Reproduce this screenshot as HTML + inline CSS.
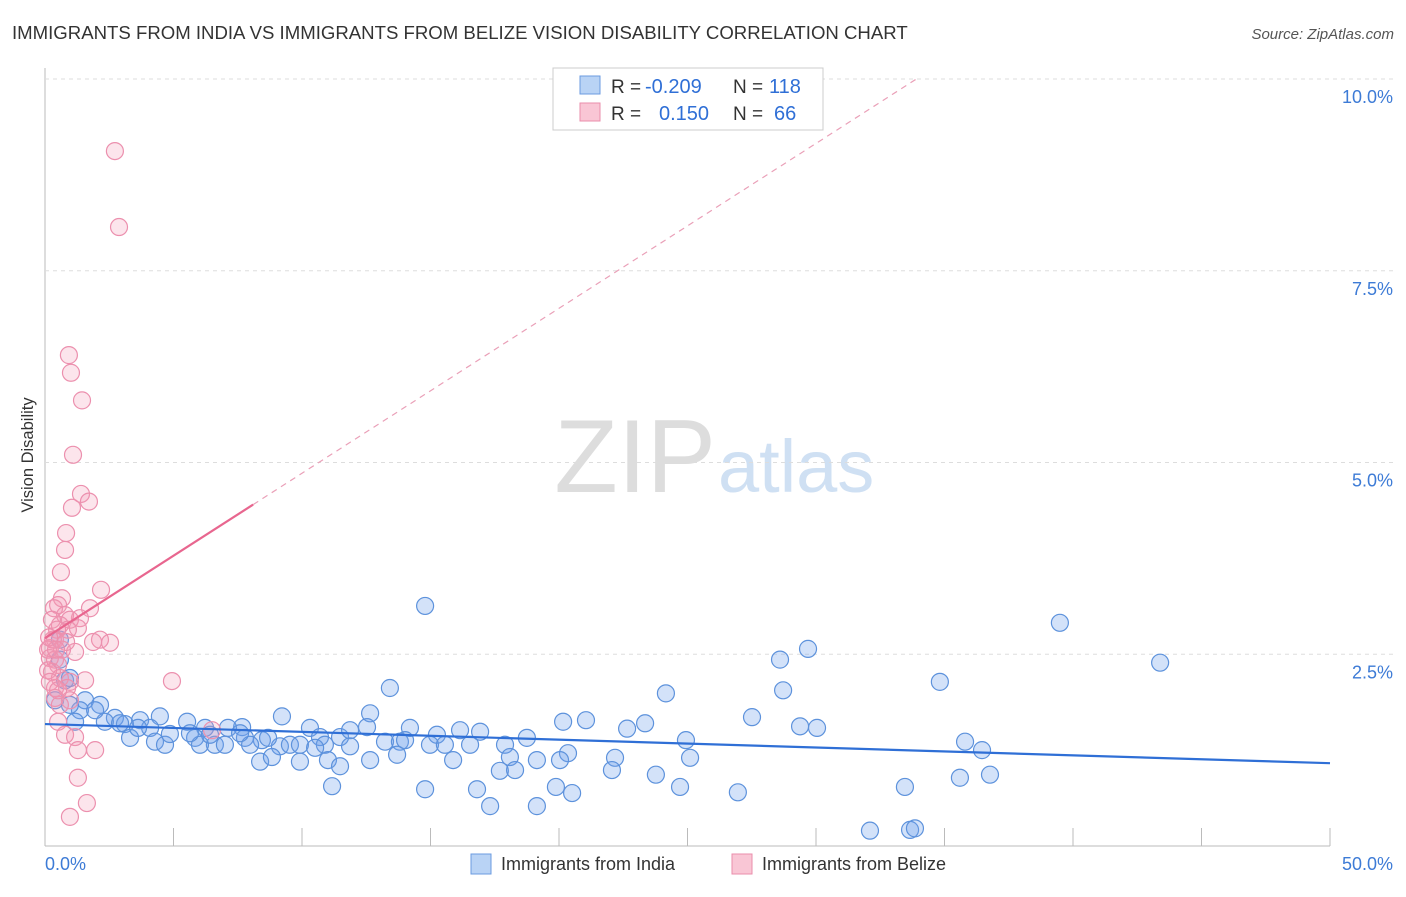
<!DOCTYPE html>
<html><head><meta charset="utf-8"><style>
body{margin:0;background:#fff;font-family:"Liberation Sans",sans-serif;}
svg text{font-family:"Liberation Sans",sans-serif;}
</style></head><body>
<svg id="chart" width="1406" height="892" xmlns="http://www.w3.org/2000/svg">
<text x="12" y="39" font-size="18.6" fill="#333">IMMIGRANTS FROM INDIA VS IMMIGRANTS FROM BELIZE VISION DISABILITY CORRELATION CHART</text>
<text x="1394" y="39" font-size="15" fill="#555" font-style="italic" text-anchor="end">Source: ZipAtlas.com</text>
<text x="716" y="492" font-size="104" fill="#ddd" text-anchor="end" font-family="Liberation Serif">ZIP</text>
<text x="718" y="492" font-size="74" fill="#cfe0f3">atlas</text>
<text transform="translate(33,455) rotate(-90)" font-size="16.5" fill="#333" text-anchor="middle">Vision Disability</text>
<g id="grid"></g><g id="marks"></g>
<g>
<rect x="553" y="68" width="270" height="62" fill="#fff" stroke="#ccc"/>
<rect x="580" y="76" width="20" height="18" fill="#b9d3f5" stroke="#6b9be0"/>
<rect x="580" y="103" width="20" height="18" fill="#f9c6d5" stroke="#ea8dab"/>
<text x="611" y="93" font-size="19" fill="#333">R =</text>
<text x="645" y="93" font-size="20" fill="#2f6fd6">-0.209</text>
<text x="733" y="93" font-size="19" fill="#333">N =</text>
<text x="769" y="93" font-size="20" fill="#2f6fd6">118</text>
<text x="611" y="120" font-size="19" fill="#333">R =</text>
<text x="659" y="120" font-size="20" fill="#2f6fd6">0.150</text>
<text x="733" y="120" font-size="19" fill="#333">N =</text>
<text x="774" y="120" font-size="20" fill="#2f6fd6">66</text>
</g>
<g>
<rect x="471" y="854" width="20" height="20" fill="#b9d3f5" stroke="#6b9be0"/>
<text x="501" y="870" font-size="18" fill="#333">Immigrants from India</text>
<rect x="732" y="854" width="20" height="20" fill="#f9c6d5" stroke="#ea8dab"/>
<text x="762" y="870" font-size="18" fill="#333">Immigrants from Belize</text>
</g>
<text x="45" y="870" font-size="18" fill="#3d7bd6">0.0%</text>
<text x="1393" y="870" font-size="18" fill="#3d7bd6" text-anchor="end">50.0%</text>
</svg>
<script>
const yTicks=[10,7.5,5,2.5];
const yTickLabels=["10.0%","7.5%","5.0%","2.5%"];
const indiaX=[14.79,39.49,43.39,29.69,28.6,34.82,13.42,24.16,28.72,27.51,29.38,30.04,21.05,20.16,23.35,22.65,16.15,16.93,15.25,14.2,12.65,12.53,11.48,10.31,10.7,9.22,7.67,7.12,6.23,5.53,4.47,3.7,2.72,2.14,1.56,1.36,0.97,0.58,0.58,0.78,0.97,0.39,1.17,2.33,3.11,4.09,3.31,4.28,4.67,5.84,6.61,7.0,7.78,8.44,9.14,9.53,9.92,10.89,11.87,13.23,13.81,14.01,14.98,15.56,16.54,17.9,18.75,20.35,22.18,24.94,25.1,35.8,36.46,8.37,8.83,9.92,11.01,11.48,12.65,13.7,15.88,18.09,19.14,22.06,23.77,17.7,18.29,11.17,14.79,16.81,19.88,20.51,24.71,26.96,33.46,35.6,36.77,17.32,19.14,32.1,33.66,33.85,7.98,6.03,7.59,11.87,10.51,3.62,4.86,1.95,2.92,6.42,20.04,5.64,8.68];
const indiaY=[3.13,2.91,2.39,2.57,2.43,2.14,2.06,1.99,2.03,1.68,1.56,1.54,1.64,1.62,1.6,1.53,1.51,1.49,1.45,1.54,1.73,1.55,1.42,1.54,1.42,1.69,1.55,1.54,1.54,1.62,1.69,1.64,1.67,1.84,1.9,1.77,1.84,2.69,2.43,2.16,2.19,1.9,1.62,1.62,1.59,1.54,1.41,1.36,1.32,1.41,1.32,1.32,1.41,1.38,1.3,1.32,1.32,1.32,1.3,1.36,1.36,1.38,1.32,1.32,1.32,1.32,1.41,1.21,1.15,1.38,1.15,1.36,1.25,1.1,1.16,1.1,1.12,1.04,1.12,1.19,1.12,1.16,1.12,0.99,0.93,0.98,0.99,0.78,0.74,0.74,0.77,0.69,0.77,0.7,0.77,0.89,0.93,0.52,0.52,0.2,0.21,0.23,1.32,1.32,1.47,1.51,1.28,1.54,1.46,1.77,1.6,1.45,1.12,1.47,1.41];
const belizeX=[2.72,2.88,0.93,1.01,1.44,1.09,1.4,1.71,1.05,0.82,0.78,0.62,2.18,0.66,0.51,0.35,1.75,1.36,0.78,0.97,0.58,1.28,0.89,0.27,0.47,2.14,2.53,1.87,0.39,1.17,0.66,0.19,0.19,0.39,0.51,0.27,0.12,0.58,0.97,1.56,4.94,0.39,0.86,0.19,0.39,0.97,0.58,0.51,0.78,1.17,1.28,1.95,1.28,1.63,0.97,6.5,0.12,0.31,0.51,0.82,0.16,0.43];
const belizeY=[9.06,8.07,6.4,6.17,5.81,5.1,4.59,4.49,4.41,4.08,3.86,3.57,3.34,3.23,3.14,3.1,3.1,2.97,3.01,2.95,2.88,2.84,2.82,2.95,2.82,2.69,2.65,2.66,2.69,2.53,2.56,2.58,2.45,2.43,2.36,2.27,2.29,2.19,2.14,2.16,2.15,2.06,2.06,2.14,1.93,1.9,1.84,1.62,1.45,1.42,1.25,1.25,0.89,0.56,0.38,1.51,2.56,2.69,2.03,2.66,2.72,2.56];
const indiaTrend=[1.59,1.08];
const belizeTrend=[2.71,0.215];
const NS="http://www.w3.org/2000/svg";
const X0=45,X1=1330,Y0=846,PPU=76.7;
const xs=v=>X0+(v/50)*(X1-X0), ys=v=>Y0-v*PPU;
function mk(tag,attrs,parent){const e=document.createElementNS(NS,tag);for(const k in attrs)e.setAttribute(k,attrs[k]);parent.appendChild(e);return e;}
const grid=document.getElementById('grid'),marks=document.getElementById('marks');
let ax=mk('line',{x1:X0,x2:X0,y1:68,y2:Y0,stroke:'#bbb'},grid);


let bx=mk('line',{x1:X0,x2:X1,y1:Y0,y2:Y0,stroke:'#bbb'},grid);


yTicks.forEach((t,i)=>{
 const g=mk('line',{x1:X0,x2:1395,y1:ys(t),y2:ys(t),stroke:'#ddd','stroke-dasharray':'4,4'},grid);
 
 
 const l=mk('text',{x:1393,y:ys(t)+24,'font-size':18,fill:'#3d7bd6','text-anchor':'end'},grid);
 l.textContent=yTickLabels[i];
 
 
});
for(let v=0;v<=50;v+=5){
 const t=mk('line',{x1:xs(v),x2:xs(v),y1:Y0-18,y2:Y0,stroke:'#bbb'},grid);
 
 
}
indiaX.forEach((x,i)=>{
 const c=mk('circle',{cx:xs(x),cy:ys(indiaY[i]),r:8.5,fill:'rgba(110,160,235,0.3)',stroke:'#5d92dc','stroke-width':1.2},marks);
 
 
});
belizeX.forEach((x,i)=>{
 const c=mk('circle',{cx:xs(x),cy:ys(belizeY[i]),r:8.5,fill:'rgba(245,150,180,0.25)',stroke:'#ec90ae','stroke-width':1.2},marks);
 
 
});
let tl=mk('line',{x1:xs(0),y1:ys(indiaTrend[0]),x2:xs(50),y2:ys(indiaTrend[1]),stroke:'#2f6fd6','stroke-width':2.2},marks);


const xSolid=8.1, xTop=(10-belizeTrend[0])/belizeTrend[1];
let pl=mk('line',{x1:xs(0),y1:ys(belizeTrend[0]),x2:xs(xSolid),y2:ys(belizeTrend[0]+belizeTrend[1]*xSolid),stroke:'#e8668f','stroke-width':2.2},marks);


let pd=mk('line',{x1:xs(xSolid),y1:ys(belizeTrend[0]+belizeTrend[1]*xSolid),x2:xs(xTop),y2:ys(belizeTrend[0]+belizeTrend[1]*xTop),stroke:'#eaa0b8','stroke-width':1.2,'stroke-dasharray':'6,5'},marks);


</script>
</body></html>
